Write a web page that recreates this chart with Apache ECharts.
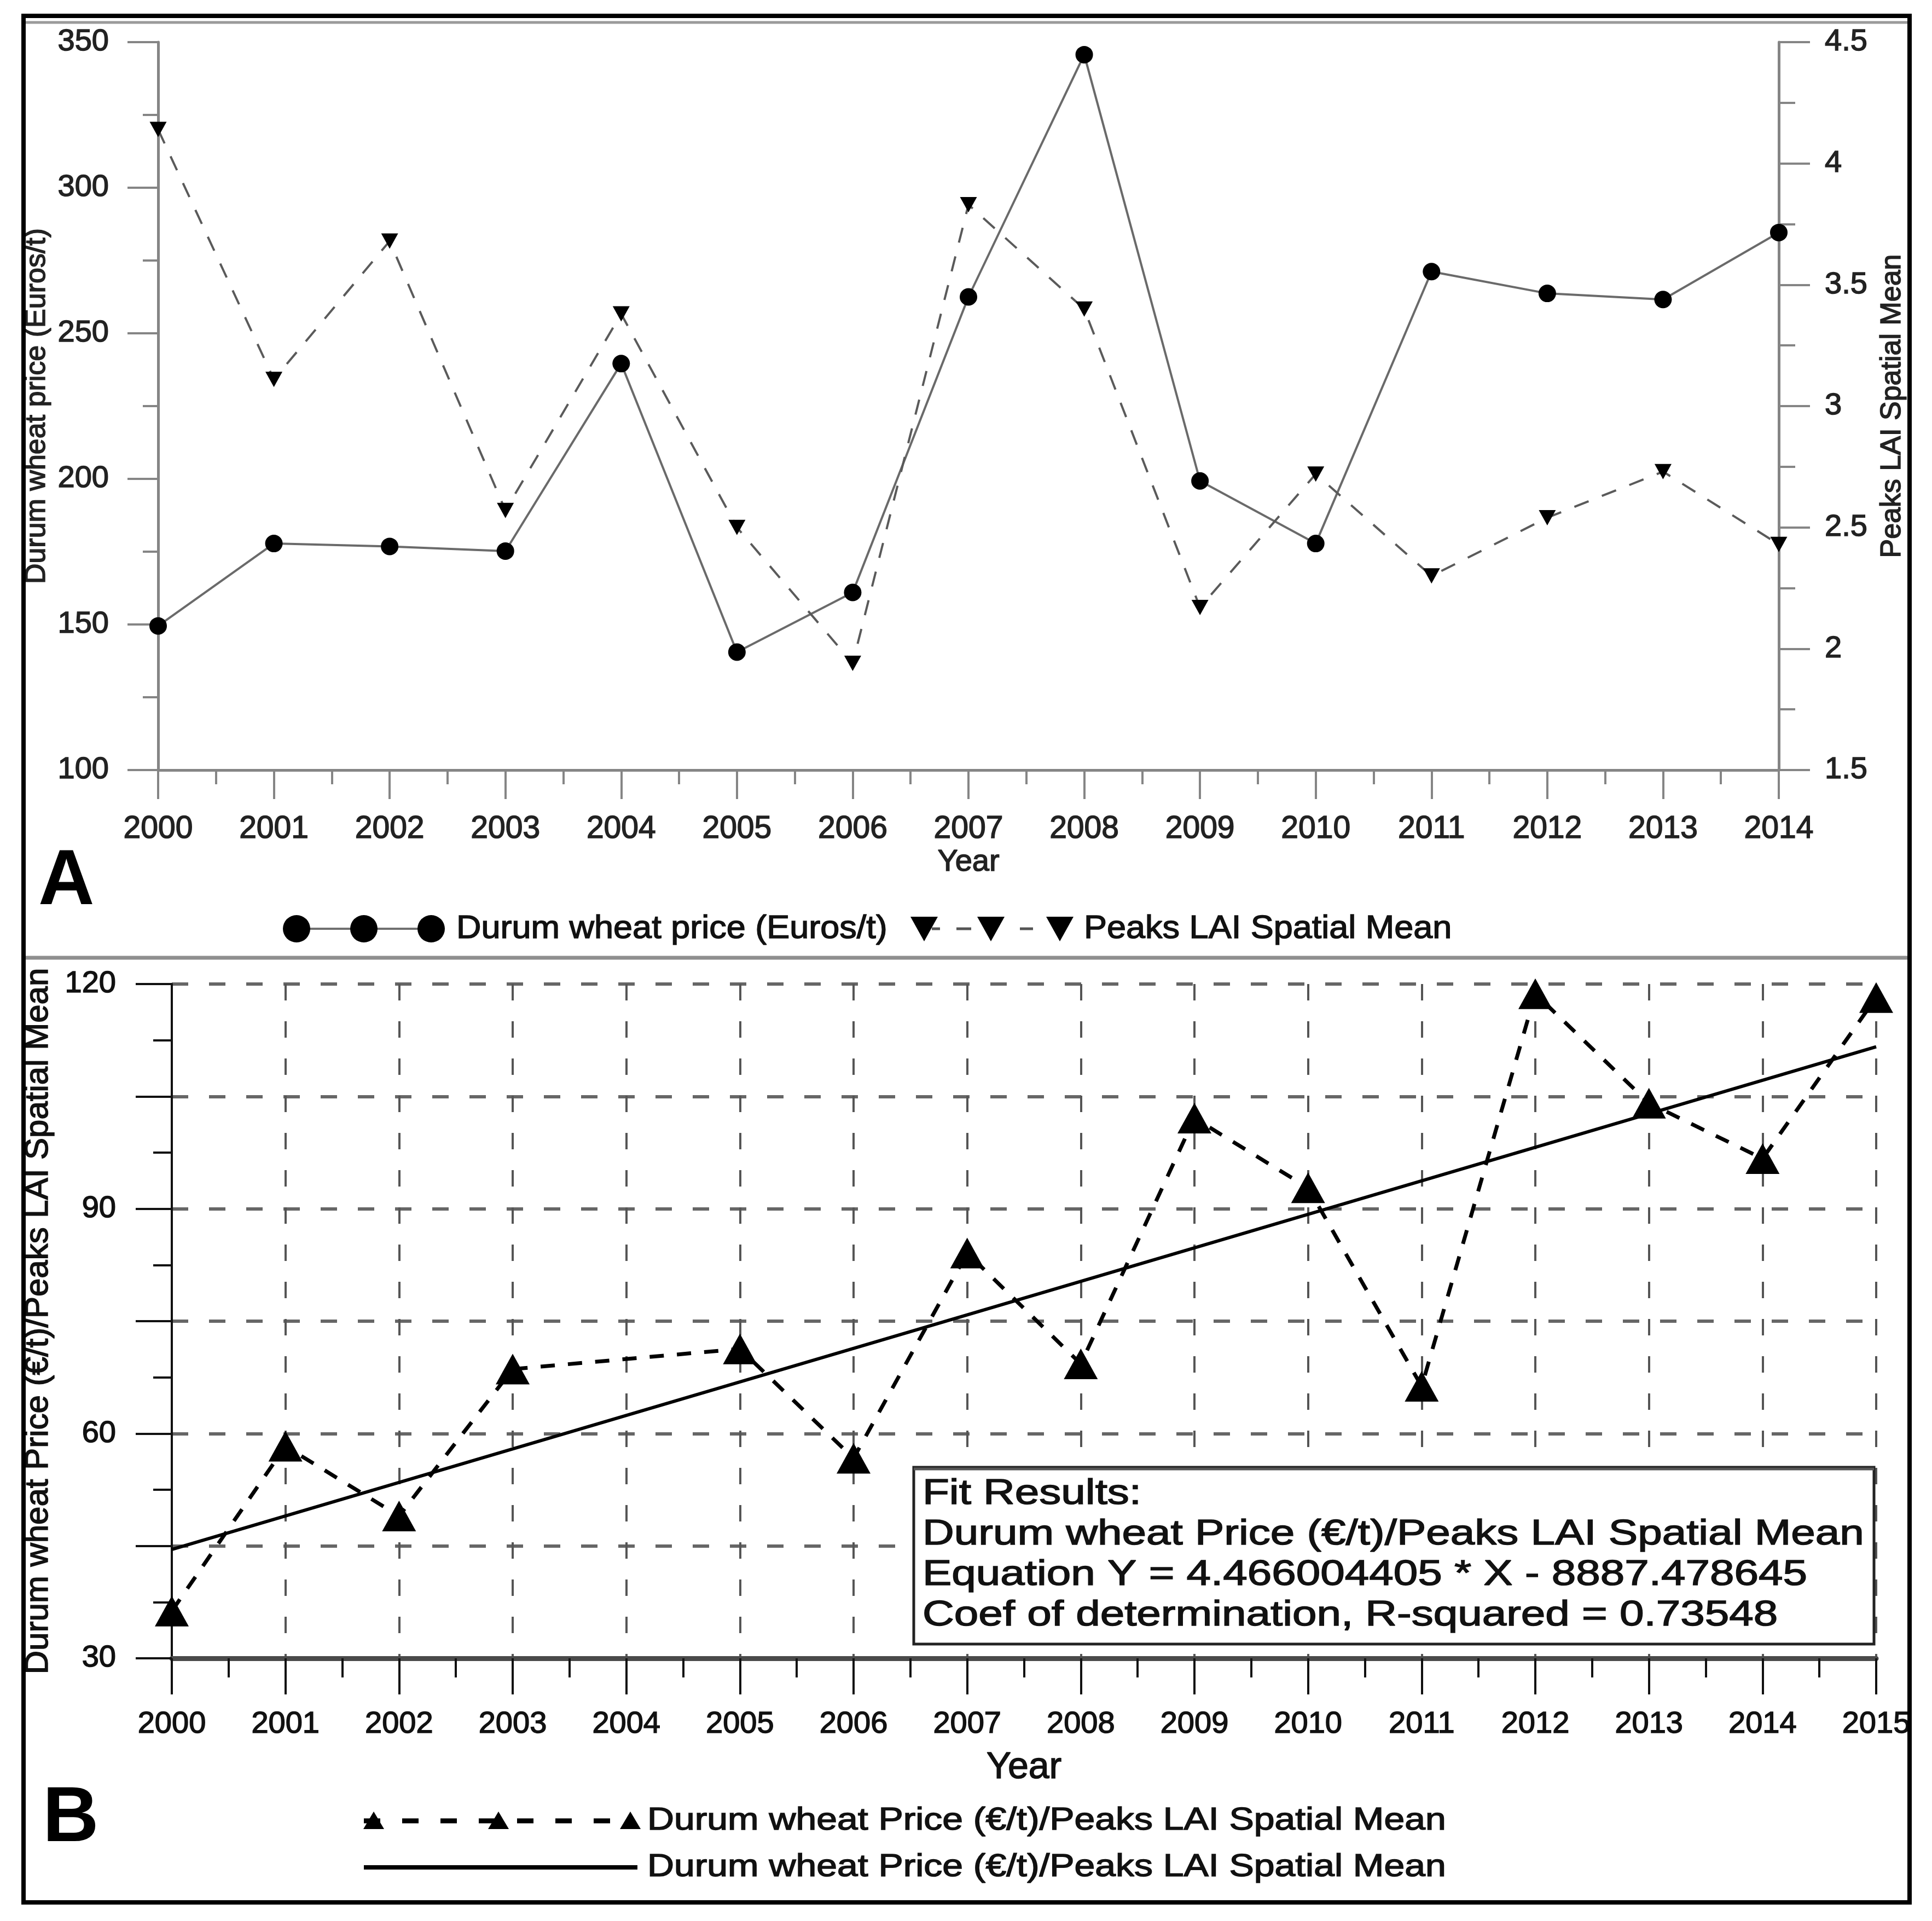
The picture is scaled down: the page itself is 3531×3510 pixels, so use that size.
<!DOCTYPE html>
<html>
<head>
<meta charset="utf-8">
<script src="https://cdn.jsdelivr.net/npm/echarts@6/dist/echarts.min.js"></script>
<style>
    *{margin:0;padding:0;}
    body{background:#fff;}
</style>
</head>
<body>
<div id="main" style="width:3531px;height:3510px;"></div>
<script type="text/javascript">

// panel A
var yearsA = [2000,2001,2002,2003,2004,2005,2006,2007,2008,2009,2010,2011,2012,2013,2014];
var wheatPrice = [149.5,177.8,176.8,175.2,239.6,140.5,161.0,262.5,345.7,199.3,177.8,271.2,263.7,261.6,284.6];
var laiPeaks = [4.14,3.11,3.68,2.57,3.38,2.50,1.94,3.83,3.40,2.17,2.72,2.30,2.54,2.73,2.43];

// panel B (no 2004 point)
var yearsB = [2000,2001,2002,2003,2005,2006,2007,2008,2009,2010,2011,2012,2013,2014,2015];
var priceLaiRatio = [36.3,58.3,49.0,68.6,71.3,56.7,84.1,69.3,102.1,92.8,66.3,118.7,104.1,96.7,118.2];
var fitYears = [2000, 2015];
var fitValues = [44.53, 111.62];

var fitText = [
    'Fit Results:',
    'Durum wheat Price (\u20ac/t)/Peaks LAI Spatial Mean',
    'Equation Y = 4.466004405 * X - 8887.478645',
    'Coef of determination, R-squared = 0.73548'
];
var legendA = ['Durum wheat price (Euros/t)', 'Peaks LAI Spatial Mean'];
var legendB = ['Durum wheat Price (\u20ac/t)/Peaks LAI Spatial Mean', 'Durum wheat Price (\u20ac/t)/Peaks LAI Spatial Mean'];

var FONT = 'Liberation Sans, Arial, sans-serif';

function pairs(xs, ys) {
    return xs.map(function (x, i) { return [x, ys[i]]; });
}
function yearFmt(v) { return String(v); }

// slightly heavier text, the scan is a bit smeared
function lbl(size, margin, color, extra) {
    var o = {fontSize: size, margin: margin, color: color, fontFamily: FONT,
        textBorderColor: color, textBorderWidth: 1.5};
    for (var k in extra) o[k] = extra[k];
    return o;
}
function nameStyle(size, color) {
    return {fontSize: size, color: color, fontFamily: FONT, textBorderColor: color, textBorderWidth: 1.5};
}

var grayAxis = {color: '#858585', width: 5};
var grayTick = {color: '#858585', width: 4};

var myChart = echarts.init(document.getElementById('main'));

var graphic = [
    {type: 'rect', z: 100, shape: {x: 43, y: 29, width: 3447, height: 3447},
        style: {fill: 'none', stroke: '#000', lineWidth: 8}},
    {type: 'line', z: 100, shape: {x1: 47, y1: 41, x2: 3486, y2: 41},
        style: {stroke: '#9a9a9a', lineWidth: 5}},
    {type: 'line', z: 100, shape: {x1: 47, y1: 1750, x2: 3486, y2: 1750},
        style: {stroke: '#8f8f8f', lineWidth: 7}},
    {type: 'text', z: 100, x: 70, y: 1613,
        style: {text: 'A', font: 'bold 142px ' + FONT, fill: '#000', textVerticalAlign: 'middle'}},
    {type: 'text', z: 100, x: 78, y: 3325,
        style: {text: 'B', font: 'bold 142px ' + FONT, fill: '#000', textVerticalAlign: 'middle'}}
];

function legendText(x, y, text, size, sx) {
    return {type: 'text', z: 101, x: x, y: y, scaleX: sx,
        style: {text: text, font: size + 'px ' + FONT, fill: '#111', stroke: '#111', lineWidth: 1.5,
            textVerticalAlign: 'middle'}};
}

// legend A
graphic.push({type: 'line', z: 100, shape: {x1: 542, y1: 1697, x2: 788, y2: 1697},
    style: {stroke: '#707070', lineWidth: 4}});
[542, 665, 788].forEach(function (cx) {
    graphic.push({type: 'circle', z: 101, shape: {cx: cx, cy: 1697, r: 25}, style: {fill: '#000'}});
});
graphic.push(legendText(834, 1697, legendA[0], 60, 1.05));
[[1703, 1718], [1748, 1775], [1864, 1888]].forEach(function (d) {
    graphic.push({type: 'line', z: 100, shape: {x1: d[0], y1: 1697, x2: d[1], y2: 1697},
        style: {stroke: '#555', lineWidth: 5}});
});
[1689, 1811, 1937].forEach(function (cx) {
    graphic.push({type: 'polygon', z: 101,
        shape: {points: [[cx - 25, 1675], [cx + 25, 1675], [cx, 1720]]}, style: {fill: '#000'}});
});
graphic.push(legendText(1981, 1697, legendA[1], 60, 1.05));

// legend B
graphic.push({type: 'line', z: 100, shape: {x1: 665, y1: 3327, x2: 1150, y2: 3327},
    style: {stroke: '#000', lineWidth: 9, lineDash: [30, 40]}});
[683, 911, 1152].forEach(function (cx) {
    graphic.push({type: 'polygon', z: 101,
        shape: {points: [[cx - 19, 3342], [cx + 19, 3342], [cx, 3310]]}, style: {fill: '#000'}});
});
graphic.push({type: 'line', z: 100, shape: {x1: 665, y1: 3412, x2: 1165, y2: 3412},
    style: {stroke: '#000', lineWidth: 8}});
graphic.push(legendText(1183, 3327, legendB[0], 58, 1.17));
graphic.push(legendText(1183, 3412, legendB[1], 58, 1.17));

// fit results box
graphic.push({type: 'rect', z: 100, shape: {x: 1670, y: 2681, width: 1755, height: 323},
    style: {fill: '#fff', stroke: '#222', lineWidth: 5}});
graphic.push({type: 'line', z: 100, shape: {x1: 1670, y1: 2684, x2: 3425, y2: 2684},
    style: {stroke: '#555', lineWidth: 5}});
fitText.forEach(function (t, i) {
    graphic.push(legendText(1686, 2730 + i * 74, t, 64, 1.25));
});

myChart.setOption({
    animation: false,
    backgroundColor: '#fff',
    textStyle: {fontFamily: FONT},
    grid: [
        {left: 289, top: 77, width: 2962, height: 1330, outerBoundsMode: 'none'},
        {left: 314, top: 1798, width: 3115, height: 1232, outerBoundsMode: 'none'}
    ],
    xAxis: [
        {
            gridIndex: 0, type: 'value', min: 2000, max: 2014, interval: 1,
            axisLine: {show: true, onZero: false, lineStyle: grayAxis},
            axisTick: {show: true, length: 53, lineStyle: grayTick},
            minorTick: {show: true, splitNumber: 2, length: 26, lineStyle: grayTick},
            axisLabel: lbl(57, 80, '#222', {formatter: yearFmt}),
            splitLine: {show: false},
            name: 'Year', nameLocation: 'middle', nameGap: 141,
            nameTextStyle: nameStyle(56, '#222')
        },
        {
            gridIndex: 1, type: 'value', min: 2000, max: 2015, interval: 1,
            axisLine: {show: true, onZero: false, lineStyle: {color: '#4a4a4a', width: 9}},
            axisTick: {show: true, length: 66, lineStyle: {color: '#111', width: 4}},
            minorTick: {show: true, splitNumber: 2, length: 35, lineStyle: {color: '#111', width: 4}},
            axisLabel: lbl(56, 93, '#111', {formatter: yearFmt}),
            splitLine: {show: true, lineStyle: {type: [30, 38], color: '#555', width: 4}},
            name: 'Year', nameLocation: 'middle', nameGap: 166,
            nameTextStyle: nameStyle(68, '#111')
        }
    ],
    yAxis: [
        {
            gridIndex: 0, type: 'value', position: 'left', min: 100, max: 350, interval: 50,
            axisLine: {show: true, onZero: false, lineStyle: grayAxis},
            axisTick: {show: true, length: 56, lineStyle: grayTick},
            minorTick: {show: true, splitNumber: 2, length: 28, lineStyle: grayTick},
            axisLabel: lbl(56, 90, '#222', {}),
            splitLine: {show: false},
            name: 'Durum wheat price (Euros/t)', nameLocation: 'middle', nameRotate: 90, nameGap: 192,
            nameTextStyle: nameStyle(52, '#222')
        },
        {
            gridIndex: 0, type: 'value', position: 'right', min: 1.5, max: 4.5, interval: 0.5,
            axisLine: {show: true, onZero: false, lineStyle: grayAxis},
            axisTick: {show: true, length: 57, lineStyle: grayTick},
            minorTick: {show: true, splitNumber: 2, length: 30, lineStyle: grayTick},
            axisLabel: lbl(56, 84, '#222', {}),
            splitLine: {show: false},
            name: 'Peaks LAI Spatial Mean', nameLocation: 'middle', nameRotate: 90, nameGap: 182,
            nameTextStyle: nameStyle(52, '#222')
        },
        {
            gridIndex: 1, type: 'value', position: 'left', min: 30, max: 120, interval: 15,
            axisLine: {show: true, onZero: false, lineStyle: {color: '#111', width: 4}},
            axisTick: {show: true, length: 66, lineStyle: {color: '#111', width: 4}},
            minorTick: {show: true, splitNumber: 2, length: 34, lineStyle: {color: '#111', width: 4}},
            axisLabel: lbl(56, 102, '#111', {
                formatter: function (v) { return (v - 30) % 30 === 0 ? String(v) : ''; }
            }),
            splitLine: {show: true, lineStyle: {type: [30, 38], color: '#666', width: 6}},
            name: 'Durum wheat Price (\u20ac/t)/Peaks LAI Spatial Mean', nameLocation: 'middle',
            nameRotate: 90, nameGap: 214,
            nameTextStyle: nameStyle(60, '#111')
        }
    ],
    series: [
        {
            name: legendA[0], type: 'line', xAxisIndex: 0, yAxisIndex: 0,
            data: pairs(yearsA, wheatPrice),
            symbol: 'circle', symbolSize: 32,
            itemStyle: {color: '#000'},
            lineStyle: {color: '#6a6a6a', width: 4}
        },
        {
            name: legendA[1], type: 'line', xAxisIndex: 0, yAxisIndex: 1,
            data: pairs(yearsA, laiPeaks),
            symbol: 'triangle', symbolRotate: 180, symbolSize: [31, 28],
            itemStyle: {color: '#000'},
            lineStyle: {color: '#5a5a5a', width: 4, type: [28, 26]}
        },
        {
            name: legendB[0], type: 'line', xAxisIndex: 1, yAxisIndex: 2,
            data: pairs(yearsB, priceLaiRatio),
            symbol: 'triangle', symbolSize: [62, 56],
            itemStyle: {color: '#000'},
            lineStyle: {color: '#000', width: 7, type: [26, 24]},
            z: 3
        },
        {
            name: legendB[1], type: 'line', xAxisIndex: 1, yAxisIndex: 2,
            data: pairs(fitYears, fitValues),
            symbol: 'none',
            lineStyle: {color: '#000', width: 6},
            z: 2
        }
    ],
    graphic: graphic
});
</script>
</body>
</html>
